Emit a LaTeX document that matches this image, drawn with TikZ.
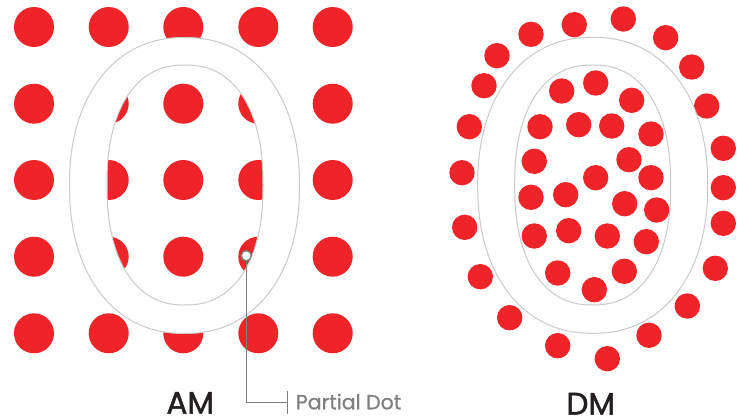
\documentclass[tikz,border=0pt]{standalone}
\usepackage{fontspec}
\setmainfont{Poppins}
\newfontfamily\titlefont{Poppins}[FakeBold=1.6]
\newfontfamily\callfont{Poppins}[FakeBold=0.8]
\definecolor{dotred}{HTML}{EE2428}
\definecolor{ringgray}{HTML}{CACACA}
\definecolor{callgray}{HTML}{7F7F7F}
\definecolor{labelblack}{HTML}{231F20}
% superellipse outline: cx, cy, a, b, exponent-term (2/n - 1)
\newcommand{\OShape}[5]{plot[domain=0:360, samples=241, variable=\t]
  ({#1 + #3*cos(\t)*pow(abs(cos(\t))+0.00001,#5)},
   {#2 + #4*sin(\t)*pow(abs(sin(\t))+0.00001,#5)})}
\tikzset{
  bigdot/.style={fill=dotred},
  ringline/.style={draw=ringgray, line width=1pt},
  bigtitle/.style={font=\titlefont\fontsize{31}{33}\selectfont, text=labelblack, inner sep=0pt, text depth=0pt, anchor=base},
  calltext/.style={font=\callfont\fontsize{20.5}{24}\selectfont, text=callgray, inner sep=0pt, text depth=0pt, anchor=base west},
  callline/.style={draw=callgray, line width=1.5pt},
  marker/.style={circle, draw=callgray, fill=white, line width=1.3pt, minimum size=10pt, inner sep=0pt}
}
\begin{document}
\begin{tikzpicture}[x=1pt, y=-1pt]
\useasboundingbox (0,0) rectangle (747,420);
\fill[white] (0,0) rectangle (747,420);

% ---------- AM : regular grid ----------
\foreach \xx in {34,108.7,183.3,258.3,332.7}
  \foreach \yy in {27,103.7,180,256.7,333.3}
    \fill[bigdot] (\xx,\yy) circle (20);

% ---------- DM : scattered dots ----------
\foreach \xx/\yy in {531/34.3, 574.3/24.7, 623.3/19, 665.7/37.7, 497/55.7, 691.7/67,
  484/85.7, 561.7/91, 595.7/83, 631.7/100.3, 706.7/106,
  469.3/126.7, 540/126.7, 578.7/124.7, 611.7/126, 651/134, 723.3/148.3,
  462/172.7, 534.3/161.3, 629/159.7, 595.7/177.7, 651/177.7, 723.3/187.7,
  531/197.3, 565.7/194.7, 624.7/203.7, 656.7/210,
  464.7/227.3, 723.3/223.3, 534.3/236, 568.7/230.7, 607.3/236, 646.3/241.7,
  480.3/276.7, 557.7/273, 624.3/271.3, 594.3/289.7, 715.3/268.3,
  687.3/306, 509.7/317.7, 649/335.3, 557.7/345.7, 607.3/358.7}
  \fill[bigdot] (\xx,\yy) circle (12.7);

% ---------- the letter O (ring) ----------
\fill[white, even odd rule] \OShape{184.5}{185.5}{115}{148}{-0.091} -- cycle
                            \OShape{185}{185}{78}{120}{-0.13} -- cycle;
\draw[ringline] \OShape{184.5}{185.5}{115}{148}{-0.091} -- cycle;
\draw[ringline] \OShape{185}{185}{78}{120}{-0.13} -- cycle;

\fill[white, even odd rule] \OShape{592.7}{185.3}{115}{148}{-0.091} -- cycle
                            \OShape{592.7}{185}{78}{120}{-0.13} -- cycle;
\draw[ringline] \OShape{592.7}{185.3}{115}{148}{-0.091} -- cycle;
\draw[ringline] \OShape{592.7}{185}{78}{120}{-0.13} -- cycle;

% ---------- labels ----------
\node[bigtitle] (am) at (190.3,413.5) {AM};
\node[bigtitle] (dm) at (590.8,414.5) {DM};

% ---------- callout ----------
\node[marker] (pd) at (246.3,255.7) {};
\coordinate (tick) at (287.3,402.7);
\coordinate (ticktop) at (287.3,391);
\coordinate (tickbot) at (287.3,414);
\draw[callline] (pd.south) |- (tick);
\draw[callline] (ticktop) -- (tickbot);
\node[calltext] (pdlabel) at (295.7,409.3) {Partial Dot};
\end{tikzpicture}
\end{document}
